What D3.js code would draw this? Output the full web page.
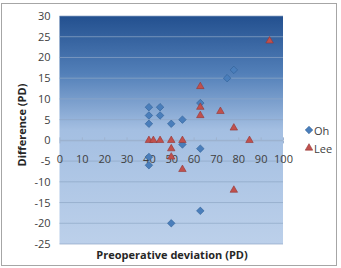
<!DOCTYPE html>
<html>
<head>
<meta charset="utf-8">
<style>
  body { margin: 0; background: #fff; }
  text { font-family: "Open Sans", "Liberation Sans", sans-serif; }
</style>
</head>
<body>
<svg id="chart" width="341" height="268"></svg>
<script src="https://cdn.jsdelivr.net/npm/d3@7"></script>
<script>
// Oh series (diamonds)
const ohX = [40, 40, 40, 40, 40, 45, 45, 50, 50, 55, 55, 63, 63, 63, 75, 78]
const ohY = [8, 6, 4, -4, -6, 8, 6, 4, -20, 5, -1, 9, -2, -17, 15, 17]
// Lee series (triangles)
const leeX = [40, 42, 45, 50, 50, 50, 55, 55, 63, 63, 63, 72, 78, 78, 85, 94]
const leeY = [0, 0, 0, 0, -2, -4, 0, -7, 13, 8, 6, 7, 3, -12, 0, 24]
const xTicks = [0, 10, 20, 30, 40, 50, 60, 70, 80, 90, 100]
const yTicks = [30, 25, 20, 15, 10, 5, 0, -5, -10, -15, -20, -25]

let svg = d3.select("#chart")

// outer frame
svg.append("rect")
    .attr("x", 1.5).attr("y", 3.5)
    .attr("width", 335).attr("height", 262)
    .attr("fill", "#fff")
    .attr("stroke", "#a6a6a6")

let x = d3.scaleLinear().domain([0, 100]).range([59.5, 283])
let y = d3.scaleLinear().domain([-25, 30]).range([244, 16])

// plot background gradient
let defs = svg.append("defs")
let grad = defs.append("linearGradient")
    .attr("id", "bg").attr("x1", 0).attr("y1", 0).attr("x2", 0).attr("y2", 1)
grad.append("stop").attr("offset", "0%").attr("stop-color", "#23508f")
grad.append("stop").attr("offset", "25%").attr("stop-color", "#527fb8")
grad.append("stop").attr("offset", "50%").attr("stop-color", "#a4bfe2")
grad.append("stop").attr("offset", "100%").attr("stop-color", "#bcd0ea")

svg.append("rect")
    .attr("x", x(0)).attr("y", y(30))
    .attr("width", x(100) - x(0)).attr("height", y(-25) - y(30))
    .attr("fill", "url(#bg)")

// gridlines
svg.append("g").selectAll("line")
    .data(yTicks)
    .enter()
    .append("line")
    .attr("x1", x(0)).attr("x2", x(100))
    .attr("y1", d => y(d)).attr("y2", d => y(d))
    .attr("stroke", "#8ea6c6")
    .attr("stroke-opacity", 0.7)

// y axis labels
let yAxis = d3.axisLeft(y).tickValues(yTicks).tickSize(0).tickPadding(9)
    .tickFormat(d => String(d))
let gy = svg.append("g").attr("transform", `translate(${x(0)},0)`).call(yAxis)
gy.select(".domain").remove()
gy.selectAll("text").attr("font-size", 11).attr("fill", "#404040")
    .style("font-family", "'Open Sans', sans-serif")

// x axis at y = 0
let xAxis = d3.axisBottom(x).tickValues(xTicks).tickSize(3).tickPadding(12)
    .tickFormat(d => String(d))
let gx = svg.append("g").attr("transform", `translate(0,${y(0)})`).call(xAxis)
gx.select(".domain").attr("stroke", "#9fb3cf")
gx.selectAll(".tick line").attr("stroke", "#9fb3cf").attr("y1", -3).attr("y2", 0)
gx.selectAll("text").attr("font-size", 11).attr("fill", "#404040")
    .style("font-family", "'Open Sans', sans-serif")

// markers
let ohData = ohX.map((d, i) => ({ x: d, y: ohY[i] }))
let leeData = leeX.map((d, i) => ({ x: d, y: leeY[i] }))

let diamond = d3.symbol().type(d3.symbolDiamond2).size(36)
let triangle = d3.symbol().type(d3.symbolTriangle2).size(40)

svg.append("g").selectAll("path")
    .data(ohData)
    .enter()
    .append("path")
    .attr("d", diamond)
    .attr("transform", d => `translate(${x(d.x)},${y(d.y)})`)
    .attr("fill", "#4a7ebb")
    .attr("stroke", "#2f5f96")
    .attr("stroke-width", 0.6)

svg.append("g").selectAll("path")
    .data(leeData)
    .enter()
    .append("path")
    .attr("d", triangle)
    .attr("transform", d => `translate(${x(d.x)},${y(d.y)})`)
    .attr("fill", "#c0504d")
    .attr("stroke", "#943634")
    .attr("stroke-width", 0.6)

// axis titles
svg.append("text")
    .attr("x", 172).attr("y", 259)
    .attr("text-anchor", "middle")
    .attr("font-size", 11).attr("font-weight", "bold").attr("fill", "#262626")
    .text("Preoperative deviation (PD)")

svg.append("text")
    .attr("transform", "translate(26,125) rotate(-90)")
    .attr("text-anchor", "middle")
    .attr("font-size", 11).attr("font-weight", "bold").attr("fill", "#262626")
    .text("Difference (PD)")

// legend
let legend = svg.append("g")
legend.append("path").attr("d", diamond)
    .attr("transform", "translate(309,130)")
    .attr("fill", "#4a7ebb").attr("stroke", "#2f5f96").attr("stroke-width", 0.6)
legend.append("text").attr("x", 314).attr("y", 135)
    .attr("font-size", 11).attr("fill", "#404040").text("Oh")
legend.append("path").attr("d", triangle)
    .attr("transform", "translate(309,148)")
    .attr("fill", "#c0504d").attr("stroke", "#943634").attr("stroke-width", 0.6)
legend.append("text").attr("x", 314).attr("y", 153)
    .attr("font-size", 11).attr("fill", "#404040").text("Lee")
</script>
</body>
</html>
